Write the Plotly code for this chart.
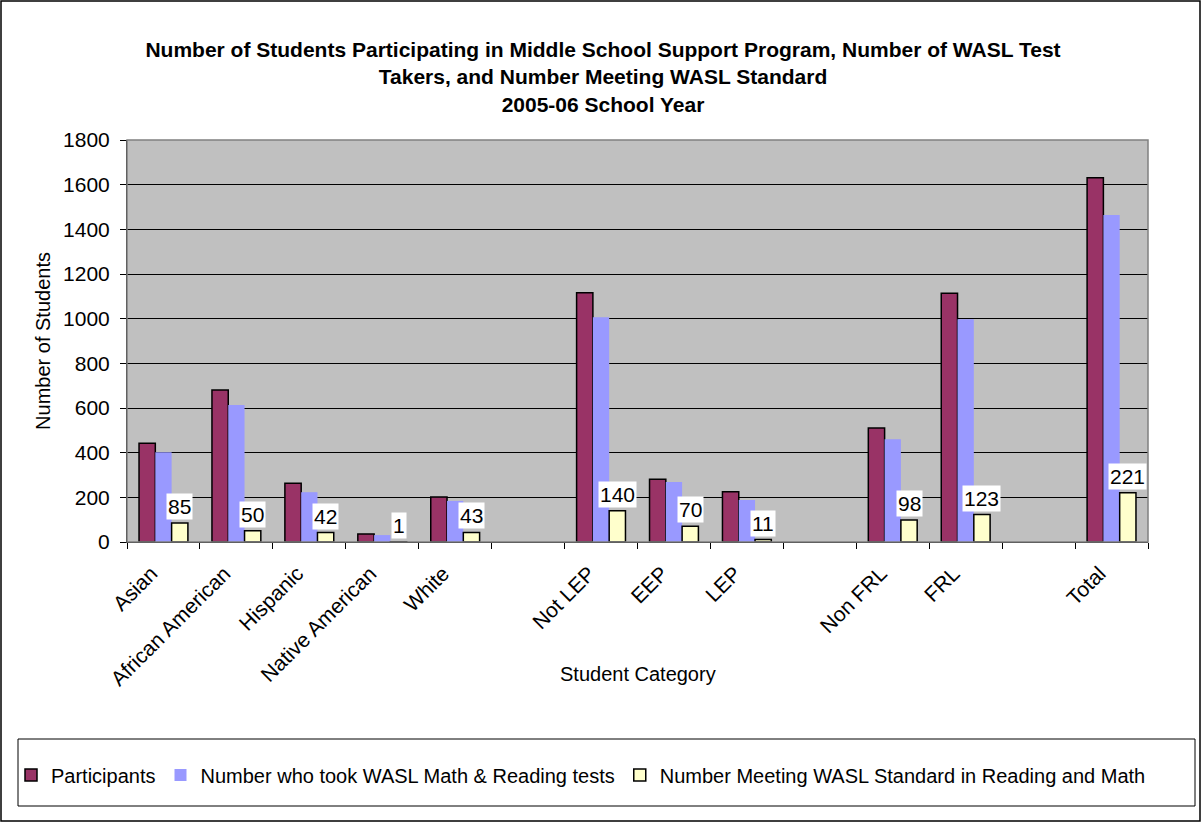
import plotly.graph_objects as go

# ---- data ----
categories = ["Asian", "African American", "Hispanic", "Native American", "White",
              "Not LEP", "EEP", "LEP", "Non FRL", "FRL", "Total"]
axis_order = ["Asian", "African American", "Hispanic", "Native American", "White", " ",
              "Not LEP", "EEP", "LEP", "  ", "Non FRL", "FRL", "   ", "Total"]
participants = [442, 681, 263, 36, 201, 1116, 281, 225, 510, 1114, 1631]
took_wasl = [402, 613, 223, 31, 184, 1006, 269, 188, 460, 997, 1464]
meeting_std = [85, 50, 42, 1, 43, 140, 70, 11, 98, 123, 221]
y_ticks = [0, 200, 400, 600, 800, 1000, 1200, 1400, 1600, 1800]

# ---- layout constants (pixels) ----
W, H = 1202, 823
L, R, T, B = 127, 1148, 140, 542
PW, PH = R - L, B - T
BARGAP = 0.33
FONT = "Liberation Sans, Arial, sans-serif"

def px_x(p):
    return (p - L) / PW

def px_y(p):
    return (B - p) / PH

fig = go.Figure()
fig.add_trace(go.Bar(name="Participants", x=categories, y=participants,
                     marker=dict(color="#993366", line=dict(color="black", width=1.5))))
fig.add_trace(go.Bar(name="Number who took WASL Math & Reading tests", x=categories, y=took_wasl,
                     marker=dict(color="#9999FF", line=dict(color="#9999FF", width=0))))
fig.add_trace(go.Bar(name="Number Meeting WASL Standard in Reading and Math", x=categories, y=meeting_std,
                     marker=dict(color="#FFFFCC", line=dict(color="black", width=1.5))))

slot = PW / len(axis_order)
bar_w = slot * (1 - BARGAP) / 3
annotations = []
for c, v in zip(categories, meeting_std):
    annotations.append(dict(x=c, y=v, xref="x", yref="y", text=str(v), showarrow=False,
                            xshift=bar_w, yshift=3, yanchor="bottom", xanchor="center",
                            bgcolor="white", borderpad=1,
                            font=dict(family=FONT, size=21, color="black")))
# x axis title
annotations.append(dict(text="Student Category", xref="paper", yref="paper", x=0.5, y=px_y(674),
                        xanchor="center", yanchor="middle", showarrow=False,
                        font=dict(family=FONT, size=20, color="black")))

shapes = [
    # outer frame
    dict(type="rect", xref="paper", yref="paper", x0=px_x(1), x1=px_x(1200), y0=px_y(821), y1=px_y(1),
         line=dict(color="black", width=1.5), fillcolor="rgba(0,0,0,0)", layer="below"),
    # legend box
    dict(type="rect", xref="paper", yref="paper", x0=px_x(18), x1=px_x(1195), y0=px_y(806), y1=px_y(739),
         line=dict(color="black", width=1), fillcolor="rgba(0,0,0,0)"),
    # plot area border
    dict(type="rect", xref="paper", yref="paper", x0=0, x1=1, y0=0, y1=1,
         line=dict(color="#808080", width=1.5), fillcolor="rgba(0,0,0,0)"),
]

fig.update_layout(
    width=W, height=H,
    margin=dict(l=L, r=W - R, t=T, b=H - B, autoexpand=False),
    paper_bgcolor="white", plot_bgcolor="#C0C0C0",
    font=dict(family=FONT, size=20, color="black"),
    barmode="group", bargap=BARGAP, bargroupgap=0,
    title=dict(text="<b>Number of Students Participating in Middle School Support Program, Number of WASL Test<br>"
                    "Takers, and Number Meeting WASL Standard<br>2005-06 School Year</b>",
               x=603 / W, xanchor="center", xref="container", y=1 - 57 / H, yanchor="top", yref="container",
               font=dict(family=FONT, size=21, color="black")),
    xaxis=dict(type="category", categoryorder="array", categoryarray=axis_order,
               tickson="boundaries", ticks="outside", ticklen=6, tickcolor="black",
               tickangle=-45, showline=True, linecolor="black", linewidth=1,
               tickfont=dict(family=FONT, size=21), ticklabelstandoff=10, ticklabelshift=-12,
               showgrid=False, zeroline=False),
    yaxis=dict(range=[0, 1800], tickvals=y_ticks, ticks="outside", ticklen=6, tickcolor="black",
               showline=True, linecolor="black", linewidth=1, showgrid=True, gridcolor="black",
               gridwidth=1, zeroline=False, tickfont=dict(family=FONT, size=21), ticklabelstandoff=6,
               title=dict(text="Number of Students", font=dict(family=FONT, size=20), standoff=7)),
    legend=dict(orientation="h", xref="paper", yref="paper", x=px_x(11), xanchor="left",
                y=px_y(775), yanchor="middle", font=dict(family=FONT, size=20),
                bgcolor="rgba(0,0,0,0)", borderwidth=0, itemwidth=30, tracegroupgap=0),
    annotations=annotations, shapes=shapes, showlegend=True,
)

fig.write_html("out.html", config={"displayModeBar": False},
               post_script="document.body.style.margin='0px';")
